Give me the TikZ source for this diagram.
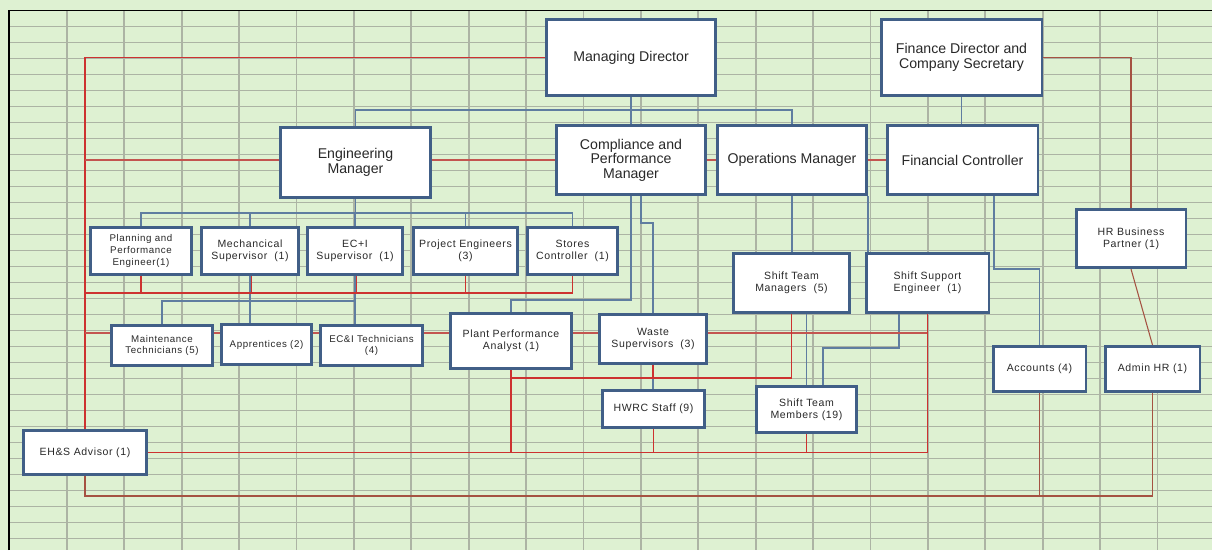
\documentclass[tikz,border=0pt]{standalone}
\usepackage{fontspec}
\setmainfont{Liberation Sans}
\newfontfamily\lblfont[LetterSpace=6]{Liberation Sans}
\usetikzlibrary{calc}
\definecolor{sheet}{RGB}{222,241,210}
\definecolor{gridc}{RGB}{172,180,164}
\definecolor{boxc}{RGB}{65,95,135}
\definecolor{linkb}{RGB}{95,125,160}
\definecolor{linkr}{RGB}{205,50,48}
\definecolor{linkm}{RGB}{195,85,80}
\definecolor{linkh}{RGB}{165,82,66}
\definecolor{txt}{RGB}{40,40,40}
\pgfdeclarelayer{sheetlayer}
\pgfdeclarelayer{links}
\pgfsetlayers{sheetlayer,links,main}
% box from its outer corners (x1,y1)-(x2,y2), in pixel units
\newcommand\orgbox[7]{%
  \pgfmathsetmacro\bw{(#5-#3-2.5)*0.75}%
  \pgfmathsetmacro\bh{(#6-#4-2.5)*0.75}%
  \node[#2,minimum width=\bw pt,minimum height=\bh pt] (#1) at ({(#3+#5)/2},{(#4+#6)/2}) {#7};}
\begin{document}
\begin{tikzpicture}[x=0.75pt,y=-0.75pt,
  box/.style={draw=boxc,line width=1.9pt,fill=white,inner sep=0pt,align=center,text=txt},
  big/.style={box,font=\fontsize{10.6}{10.8}\selectfont},
  small/.style={box,font=\lblfont\fontsize{7.9}{8.8}\selectfont},
  tiny/.style={box,font=\lblfont\fontsize{7.3}{8.8}\selectfont},
  bl/.style={draw=linkb,line width=0.95pt},
  rd/.style={draw=linkr,line width=0.9pt},
  rm/.style={draw=linkm,line width=0.8pt},
  rh/.style={draw=linkh,line width=0.8pt},
  gl/.style={draw=gridc,line width=1.25pt}]
\useasboundingbox (0,0) rectangle (1212,550);

% spreadsheet background
\begin{pgfonlayer}{sheetlayer}
  \fill[sheet] (0,0) rectangle (1212,550);
  \foreach \k in {1,...,20} \draw[gl] ({9.5+57.4*\k},10.5) -- ({9.5+57.4*\k},550);
  \foreach \j in {1,...,33} \draw[gl] (9,{10.5+16*\j}) -- (1212,{10.5+16*\j});
  \draw[black,line width=0.8pt] (9,550) -- (9,10.5) -- (1212,10.5);
\end{pgfonlayer}

% boxes
\orgbox{md}{big}{545}{18}{717}{97}{Managing Director}
\orgbox{fd}{big}{880}{18}{1043}{97}{Finance Director and\\Company Secretary}
\orgbox{eng}{big}{279}{126}{432}{199}{Engineering\\Manager}
\orgbox{comp}{big}{555}{124}{707}{196}{Compliance and\\Performance\\Manager}
\orgbox{ops}{big}{716}{124}{868}{196}{Operations Manager}
\orgbox{fc}{big}{886}{124}{1039}{196}{Financial Controller}
\orgbox{hrbp}{small}{1075}{208}{1187}{269}{HR Business\\Partner (1)}
\orgbox{ppe}{tiny}{89}{226}{193}{276}{Planning and\\Performance\\Engineer(1)}
\orgbox{mech}{small}{200}{226}{300}{276}{Mechancical\\Supervisor\ \ (1)}
\orgbox{eci}{small}{306}{226}{404}{276}{EC+I\\Supervisor\ \ (1)}
\orgbox{proj}{small}{412}{226}{519}{276}{Project Engineers\\(3)}
\orgbox{stores}{small}{526}{226}{619}{276}{Stores\\Controller\ \ (1)}
\orgbox{stm}{small}{732}{252}{851}{314}{Shift Team\\Managers\ \ (5)}
\orgbox{sse}{small}{865}{252}{990}{314}{Shift Support\\Engineer\ \ (1)}
\orgbox{maint}{tiny}{110}{324}{214}{367}{Maintenance\\Technicians (5)}
\orgbox{appr}{tiny}{220}{323}{313}{366}{Apprentices (2)}
\orgbox{ecit}{tiny}{319}{324}{424}{367}{EC\&I Technicians\\(4)}
\orgbox{ppa}{small}{449}{312}{573}{370}{Plant Performance\\Analyst (1)}
\orgbox{waste}{small}{598}{313}{708}{365}{Waste\\Supervisors\ \ (3)}
\orgbox{hwrc}{small}{601}{389}{706}{429}{HWRC Staff (9)}
\orgbox{stmem}{small}{755}{385}{858}{434}{Shift Team\\Members (19)}
\orgbox{acc}{small}{992}{345}{1087}{393}{Accounts (4)}
\orgbox{admin}{small}{1104}{345}{1201}{393}{Admin HR (1)}
\orgbox{ehs}{small}{22}{429}{148}{476}{EH\&S Advisor (1)}

% bus levels
\coordinate (mdbus) at (0,110);
\coordinate (engbus) at (0,213);
\coordinate (cpbus) at (0,300);
\coordinate (mtbus) at (0,301);
\coordinate (rbus) at (0,293);
\coordinate (r333) at (0,333);
\coordinate (r378) at (0,378);

\begin{pgfonlayer}{links}
  % reporting lines
  \draw[bl] (md.south) -- (comp.north);
  \draw[bl] (eng.north) -- (eng.north |- mdbus) -| (ops.north);
  \draw[bl] (fd.south) -- (fd.south |- fc.north);
  \draw[bl] (eng.south) -- (eng.south |- engbus);
  \draw[bl] (ppe.north) -- (ppe.north |- engbus) -| (stores.north);
  \foreach \n in {mech,eci,proj} \draw[bl] (\n.north) -- (\n.north |- engbus);
  \draw[bl] (mech.south) -- (mech.south |- appr.north);
  \draw[bl] (eci.south) -- (eci.south |- ecit.north);
  \draw[bl] (maint.north) -- (maint.north |- mtbus) -- (eci.south |- mtbus);
  \draw[bl] (comp.south) -- (comp.south |- cpbus) -| (ppa.north);
  \draw[bl] ($(comp.south)+(10,0)$) -- ++(0,27) -| (waste.north);
  \draw[bl] (waste.south) -- (waste.south |- hwrc.north);
  \draw[bl] (ops.south) -- (ops.south |- stm.north);
  \draw[bl] (ops.south east) -- (ops.south east |- sse.north);
  \draw[bl] (stmem.north) -- (stmem.north |- stm.south);
  \draw[bl] ($(sse.south)+(-28.5,0)$) -- ++(0,34) -| ($(stmem.north)+(16.5,0)$);
  \draw[bl] ($(fc.south)+(31.5,0)$) -- ++(0,73) -| (acc.north);

  % safety and support lines
  \draw[rd] (md.west) -| (ehs.north);
  \draw[rm] (ehs.north |- fc.west) -- (fc.west);
  \draw[rd] (ehs.north |- rbus) -| (stores.south);
  \foreach \n in {ppe,proj} \draw[rd] (\n.south) -- (\n.south |- rbus);
  \foreach \n in {mech,eci} \draw[rd,line width=1.3pt] ($(\n.south)+(1.5,0)$) -- ($(\n.south |- rbus)+(1.5,0)$);
  \draw[rm] (ehs.north |- r333) -- (sse.south |- r333);
  \draw[rd] (sse.south) -- (sse.south |- ehs.east);
  \draw[rd] (ehs.east) -- (sse.south |- ehs.east);
  \foreach \n in {ppa,hwrc,stmem} \draw[rd] (\n.south) -- (\n.south |- ehs.east);
  \draw[rd] (ppa.south |- r378) -| (stm.south);
  \draw[rd] (waste.south) -- (waste.south |- r378);
  \draw[rh] (fd.east) -| (hrbp.north);
  \draw[rh] (hrbp.south) -- (admin.north);
  \draw[rh] (ehs.south) -- ++(0,20) -| (admin.south);
  \draw[rh] (acc.south) -- ++(0,102);
\end{pgfonlayer}
\end{tikzpicture}
\end{document}
